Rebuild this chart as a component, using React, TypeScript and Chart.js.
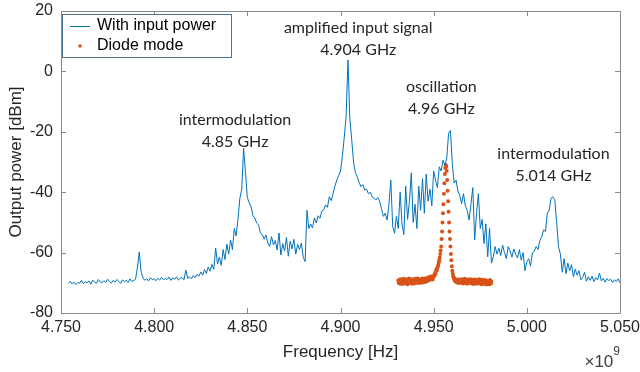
import React, { useEffect, useRef } from "react";
import { Chart, registerables } from "chart.js";

Chart.register(...registerables);

// ---- data ----
const FREQ_START_MHZ = 4754;
const FREQ_STEP_MHZ = 1;
// "With input power" spectrum (dBm), one value per MHz from 4754 MHz
const inputPowerDbm = [
  -70.2, -69.5, -70.4, -69.8, -70.6, -69.9, -70.1, -69.2, -70.3, -69.6,
  -70.0, -69.4, -70.5, -69.1, -69.8, -70.2, -68.9, -69.7, -70.0, -69.3,
  -69.9, -68.8, -69.6, -70.1, -69.2, -69.8, -68.9, -69.5, -70.2, -69.0,
  -69.7, -69.1, -69.9, -68.7, -69.5, -69.3, -68.8, -65.0, -59.8, -66.5,
  -68.4, -69.2, -68.6, -69.4, -68.3, -69.0, -68.7, -69.3, -68.5, -69.1,
  -68.2, -69.0, -68.6, -68.9, -68.1, -69.2, -68.4, -68.8, -68.0, -69.1,
  -68.5, -68.3, -69.0, -65.8, -68.6, -68.0, -68.7, -67.6, -68.3, -67.2,
  -67.8, -66.4, -67.5, -65.6, -66.9, -64.8, -66.2, -63.9, -65.5, -58.5,
  -63.8, -61.5, -64.2, -59.0, -62.3, -57.2, -60.5, -55.8, -59.0, -52.0,
  -54.5, -48.8, -42.0, -39.0, -25.4, -33.5, -41.8, -43.5, -44.8, -47.8,
  -48.5, -50.2, -50.8, -53.5, -54.0, -55.6, -54.2, -56.8, -58.0, -54.7,
  -57.5, -56.0, -59.2, -53.5, -60.8, -57.0, -59.5, -55.0, -61.2, -56.2,
  -58.8, -55.6, -60.5, -57.3, -59.0, -56.8, -61.5, -63.0, -46.0, -52.0,
  -50.5, -51.8, -48.5, -50.2, -47.8, -48.6, -46.2, -45.8, -44.2, -45.0,
  -41.5, -42.8, -40.5, -38.0, -36.0, -34.5, -33.0, -28.0, -22.0, -15.0,
  3.8, -15.5, -22.5, -30.0, -33.5, -35.0, -36.8, -38.2, -37.5, -39.3,
  -39.0, -40.5, -40.0, -41.5, -42.0, -42.6, -41.8, -43.0, -45.5, -48.0,
  -47.0, -49.2, -44.0, -36.0, -51.3, -53.6, -48.0, -52.0, -40.0, -50.5,
  -54.0, -38.0, -49.0, -43.0, -33.6, -50.0, -44.0, -52.0, -38.0, -46.0,
  -35.5, -47.0, -34.0, -43.0, -39.0, -44.5, -33.0, -36.0, -38.5, -31.6,
  -33.0, -29.4, -31.0, -29.0, -20.5, -19.6, -30.5, -37.0, -36.0, -39.6,
  -41.0, -43.8, -40.5, -44.5, -46.0, -49.2, -44.0, -38.5, -55.8, -47.0,
  -40.5, -52.0, -49.0, -57.0, -50.5, -61.4, -52.0, -63.5, -61.4, -58.0,
  -60.5, -58.5, -61.0, -57.5, -60.0, -62.0, -58.0, -59.5, -61.5, -58.8,
  -60.5, -61.8, -59.0, -62.5, -60.0, -66.0, -63.0, -62.0, -64.5, -60.0,
  -59.5, -58.0, -59.0, -56.0, -54.7, -52.5, -53.0, -47.0, -45.9, -42.0,
  -41.5, -42.5, -50.0, -58.0, -60.5, -66.5, -62.0, -67.0, -63.5, -66.0,
  -64.0, -68.0, -65.5, -67.5, -66.0, -69.0, -68.2, -66.5, -69.5, -68.0,
  -69.2, -67.8, -69.6, -68.3, -69.0, -66.8, -69.4, -68.5, -69.8, -68.6,
  -69.3, -68.8, -69.9, -69.0, -69.6, -68.7, -70.0,
];

const DIODE_START_MHZ = 4931;
const DIODE_STEP_MHZ = 0.25;
// "Diode mode" spectrum (dBm), one value per 0.25 MHz from 4931 MHz
const diodeModeDbm = [
  -69.2, -70.1, -69.6, -68.9, -70.3, -69.4, -69.9, -68.8,
  -69.7, -70.4, -69.1, -69.8, -68.7, -70.0, -69.5, -69.0,
  -70.2, -69.3, -68.9, -69.9, -70.5, -69.1, -69.6, -68.6,
  -69.8, -70.0, -69.2, -68.8, -69.7, -70.3, -69.0, -69.5,
  -68.9, -69.9, -70.2, -69.3, -68.7, -69.6, -70.0, -69.1,
  -69.4, -68.6, -69.8, -70.1, -69.2, -68.9, -69.7, -69.3,
  -70.0, -68.8, -69.5, -69.1, -68.6, -69.9, -69.0, -68.7,
  -69.4, -68.9, -69.7, -68.5, -69.2, -68.8, -69.5, -68.4,
  -69.0, -68.6, -68.2, -69.1, -68.5, -68.0, -68.8, -67.9,
  -68.6, -68.0, -68.9, -68.2, -68.0, -67.4, -67.5, -66.8,
  -67.0, -66.2, -65.5, -65.8, -65.0, -64.6, -64.0, -63.2,
  -62.5, -61.6, -60.5, -59.3, -58.0, -55.5, -53.0, -50.0,
  -47.0, -44.0, -40.5, -37.0, -34.0, -32.0, -31.0, -31.5,
  -33.0, -36.0, -39.5, -43.0, -46.5, -50.0, -53.0, -55.5,
  -58.0, -60.5, -62.5, -64.5, -66.0, -67.0, -67.8, -68.3,
  -68.7, -69.2, -68.8, -69.5, -69.1, -69.8, -69.3, -68.9,
  -69.6, -70.1, -69.2, -69.7, -68.9, -69.4, -70.0, -69.1,
  -69.5, -68.8, -69.9, -70.2, -69.3, -69.0, -69.7, -68.7,
  -70.1, -69.4, -69.0, -69.8, -70.3, -69.2, -68.9, -69.6,
  -69.1, -70.0, -69.5, -68.8, -69.9, -69.3, -70.2, -69.0,
  -69.7, -69.2, -70.4, -69.5, -68.9, -69.8, -70.0, -69.4,
  -69.0, -70.3, -69.6, -69.1, -70.1, -69.4, -68.8, -69.9,
  -70.2, -69.3, -69.7, -70.5, -69.0, -69.6, -70.1, -69.2,
  -69.8, -70.4, -69.1, -69.9, -70.2, -69.5, -70.6, -69.3,
  -70.0, -69.4, -70.3, -69.7, -70.5, -69.1, -69.8, -70.2,
  -69.6,
];

const seriesLabels = ["With input power", "Diode mode"];
const xTickValuesGHz = [4.75, 4.8, 4.85, 4.9, 4.95, 5.0, 5.05];
const yTickValues = [20, 0, -20, -40, -60, -80];
const xAxisTitle = "Frequency [Hz]";
const yAxisTitle = "Output power [dBm]";
const xExponent = "9";

// annotation texts and anchor (GHz, dBm)
const annotationLines = [
  ["amplified input signal", "4.904 GHz"],
  ["intermodulation", "4.85 GHz"],
  ["oscillation", "4.96 GHz"],
  ["intermodulation", "5.014 GHz"],
];
const annotationAnchorX = [4.9095, 4.8434, 4.9541, 5.0143];
const annotationAnchorY = [14.4, -16.1, -5.2, -27.4];

// ---- styles ----
const BLUE = "#0072BD";
const ORANGE = "#D95319";
const TEXT = "#262626";
const AXIS = "#8a8a8a";
const SANS = "'Liberation Sans', Arial, sans-serif";
const NOTE_FONT = "16px Lato";

const boxPlugin = {
  id: "matlabBox",
  afterDatasetsDraw(chart: any) {
    const { ctx, chartArea, scales } = chart;
    const { left, right, top, bottom } = chartArea;
    ctx.save();
    ctx.strokeStyle = AXIS;
    ctx.lineWidth = 1;
    ctx.beginPath();
    ctx.rect(Math.round(left) + 0.5, Math.round(top) + 0.5, Math.round(right - left), Math.round(bottom - top));
    const tl = 5;
    for (const t of scales.x.ticks) {
      const px = Math.round(scales.x.getPixelForValue(t.value)) + 0.5;
      ctx.moveTo(px, bottom);
      ctx.lineTo(px, bottom - tl);
      ctx.moveTo(px, top);
      ctx.lineTo(px, top + tl);
    }
    for (const t of scales.y.ticks) {
      const py = Math.round(scales.y.getPixelForValue(t.value)) + 0.5;
      ctx.moveTo(left, py);
      ctx.lineTo(left + tl, py);
      ctx.moveTo(right, py);
      ctx.lineTo(right - tl, py);
    }
    ctx.stroke();

    // annotations
    ctx.font = NOTE_FONT;
    ctx.fillStyle = TEXT;
    ctx.textAlign = "center";
    ctx.textBaseline = "middle";
    annotationLines.forEach((lines, i) => {
      const px = scales.x.getPixelForValue(annotationAnchorX[i]);
      const py = scales.y.getPixelForValue(annotationAnchorY[i]);
      lines.forEach((l, j) => ctx.fillText(l, px, py + j * 22));
    });

    // legend
    const lx = left + 1;
    const ly = top + 3;
    const lw = 169;
    const lh = 43;
    ctx.fillStyle = "#fff";
    ctx.fillRect(lx, ly, lw, lh);
    ctx.strokeStyle = "#4f7396";
    ctx.strokeRect(Math.round(lx) + 0.5, Math.round(ly) + 0.5, lw, lh);
    ctx.strokeStyle = BLUE;
    ctx.lineWidth = 1;
    ctx.beginPath();
    ctx.moveTo(lx + 8, ly + 12.5);
    ctx.lineTo(lx + 28, ly + 12.5);
    ctx.stroke();
    ctx.fillStyle = ORANGE;
    ctx.beginPath();
    ctx.arc(lx + 18, ly + 32, 1.8, 0, Math.PI * 2);
    ctx.fill();
    ctx.fillStyle = "#000";
    ctx.font = `16px ${SANS}`;
    ctx.textAlign = "left";
    ctx.fillText(chart.data.datasets[0].label, lx + 35, ly + 12);
    ctx.fillText(chart.data.datasets[1].label, lx + 35, ly + 32);

    // exponent label
    ctx.fillStyle = "#404040";
    ctx.textAlign = "right";
    ctx.textBaseline = "middle";
    ctx.font = `12px ${SANS}`;
    const ew = ctx.measureText(xExponent).width;
    ctx.fillText(xExponent, right, 352);
    ctx.font = `17px ${SANS}`;
    ctx.fillText("×10", right - ew, 362);
    ctx.restore();
  },
};

export default function App() {
  const ref = useRef<HTMLCanvasElement>(null);
  useEffect(() => {
    const blue = inputPowerDbm.map((v, i) => ({ x: (FREQ_START_MHZ + i * FREQ_STEP_MHZ) / 1000, y: v }));
    const orange = diodeModeDbm.map((v, i) => ({ x: (DIODE_START_MHZ + i * DIODE_STEP_MHZ) / 1000, y: v }));
    const chart = new Chart(ref.current as HTMLCanvasElement, {
      type: "scatter",
      data: {
        datasets: [
          {
            label: seriesLabels[0],
            data: blue,
            showLine: true,
            borderColor: BLUE,
            borderWidth: 1,
            pointRadius: 0,
            pointHoverRadius: 0,
          } as any,
          {
            label: seriesLabels[1],
            data: orange,
            backgroundColor: ORANGE,
            borderWidth: 0,
            pointRadius: 2,
          },
        ],
      },
      options: {
        animation: false,
        responsive: false,
        events: [],
        layout: { padding: { top: 11, right: 20, left: 0, bottom: 0 } },
        plugins: { legend: { display: false }, tooltip: { enabled: false } },
        scales: {
          x: {
            type: "linear",
            min: 4.75,
            max: 5.05,
            afterBuildTicks: (s: any) => {
              s.ticks = xTickValuesGHz.map((v) => ({ value: v }));
            },
            afterFit: (s: any) => {
              s.height = 59;
              s.paddingLeft = 0;
              s.paddingRight = 0;
            },
            grid: { display: false, drawTicks: false },
            border: { display: false },
            ticks: {
              color: TEXT,
              font: { family: SANS, size: 16 },
              padding: 5,
              maxRotation: 0,
              autoSkip: false,
              callback: (v: any) => Number(v).toFixed(3),
            },
            title: {
              display: true,
              text: xAxisTitle,
              color: TEXT,
              font: { family: SANS, size: 17 },
              padding: { top: 0, bottom: 9 },
            },
          },
          y: {
            min: -80,
            max: 20,
            afterBuildTicks: (s: any) => {
              s.ticks = yTickValues.map((v) => ({ value: v }));
            },
            afterFit: (s: any) => {
              s.width = 61;
              s.paddingTop = 0;
              s.paddingBottom = 0;
            },
            grid: { display: false, drawTicks: false },
            border: { display: false },
            ticks: {
              color: TEXT,
              font: { family: SANS, size: 16 },
              padding: 8,
              autoSkip: false,
            },
            title: {
              display: true,
              text: yAxisTitle,
              color: TEXT,
              font: { family: SANS, size: 17 },
              padding: { top: 6, bottom: 0 },
            },
          },
        },
      },
      plugins: [boxPlugin],
    });
    return () => chart.destroy();
  }, []);
  return (
    <div style={{ position: "fixed", left: 0, top: 0, width: 640, height: 372, background: "#fff" }}>
      <canvas ref={ref} width={640} height={372} style={{ display: "block" }} />
    </div>
  );
}
